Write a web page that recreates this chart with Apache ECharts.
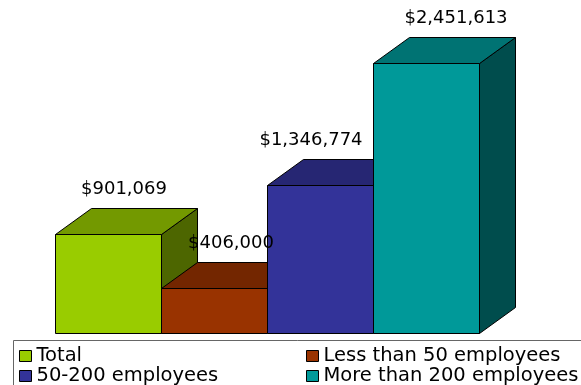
<!DOCTYPE html>
<html>
<head>
<meta charset="utf-8">
<script src="https://cdn.jsdelivr.net/npm/echarts@6/dist/echarts.min.js"></script>
<style>
  html, body { margin: 0; padding: 0; background: #fff; }
  #chart { width: 581px; height: 385px; }
</style>
</head>
<body>
<div id="chart"></div>
<script>
// Funding by company size
const categories = ['Total', 'Less than 50 employees', '50-200 employees', 'More than 200 employees'];
const values = [901069, 406000, 1346774, 2451613];
const frontColors = ['#99CC00', '#993300', '#333399', '#009999'];

// 3D box depth and per-bar label nudges (pixels)
const DEPTH_X = 36;
const DEPTH_Y = 26;
const LABEL_DX = [16, 17, -9, 30];
const LABEL_DY = 19.5;

function shade(hex, f) {
  const n = parseInt(hex.slice(1), 16);
  const r = Math.round(((n >> 16) & 255) * f);
  const g = Math.round(((n >> 8) & 255) * f);
  const b = Math.round((n & 255) * f);
  return 'rgb(' + r + ',' + g + ',' + b + ')';
}

function money(v) {
  return '$' + v.toLocaleString('en-US');
}

function renderBox(params, api) {
  const idx = api.value(0);
  const val = api.value(1);
  const base = api.coord([idx, 0]);
  const top = api.coord([idx, val]);
  const w = api.size([1, 0])[0];
  const x0 = Math.round(base[0] - w / 2) + 0.5;
  const x1 = Math.round(base[0] + w / 2) + 0.5;
  const yB = Math.round(base[1]) + 0.5;
  const yT = Math.round(top[1]) + 0.5;
  const c = frontColors[params.seriesIndex];
  const stroke = { stroke: '#000', lineWidth: 1 };
  return {
    type: 'group',
    children: [
      {
        type: 'polygon',
        shape: { points: [[x1, yT], [x1 + DEPTH_X, yT - DEPTH_Y], [x1 + DEPTH_X, yB - DEPTH_Y], [x1, yB]] },
        style: Object.assign({ fill: shade(c, 0.5) }, stroke)
      },
      {
        type: 'polygon',
        shape: { points: [[x0, yT], [x1, yT], [x1 + DEPTH_X, yT - DEPTH_Y], [x0 + DEPTH_X, yT - DEPTH_Y]] },
        style: Object.assign({ fill: shade(c, 0.75) }, stroke)
      },
      {
        type: 'rect',
        shape: { x: x0, y: yT, width: x1 - x0, height: yB - yT },
        style: Object.assign({ fill: c }, stroke)
      },
      {
        type: 'text',
        z2: 100,
        x: base[0] + LABEL_DX[idx],
        y: yT - DEPTH_Y - LABEL_DY,
        style: {
          text: money(val),
          fill: '#000',
          font: '18px "DejaVu Sans"',
          align: 'center',
          verticalAlign: 'middle'
        }
      }
    ]
  };
}

const series = categories.map(function (name, i) {
  return {
    name: name,
    type: 'custom',
    renderItem: renderBox,
    itemStyle: { color: frontColors[i] },
    encode: { x: 0, y: 1 },
    data: [[i, values[i]]]
  };
});

const legendText = { fontFamily: 'DejaVu Sans', fontSize: 19.5, color: '#000', lineHeight: 19.5 };
const legendCommon = {
  orient: 'vertical',
  top: 346,
  width: 300,
  height: 80,
  itemWidth: 12,
  itemHeight: 11,
  itemGap: 0,
  itemTextGap: 6,
  icon: 'rect',
  itemStyle: { borderColor: '#000', borderWidth: 1 },
  textStyle: legendText,
  selectedMode: false,
  padding: 0
};

const chart = echarts.init(document.getElementById('chart'), null, { renderer: 'canvas' });
chart.setOption({
  animation: false,
  backgroundColor: '#fff',
  grid: { left: 55, width: 424, top: 57.7, bottom: 52 },
  xAxis: { type: 'category', data: categories, show: false, boundaryGap: true },
  yAxis: { type: 'value', min: 0, max: 2500000, show: false },
  legend: [
    Object.assign({ left: 19, data: [categories[0], categories[2]] }, legendCommon),
    Object.assign({ left: 306, data: [categories[1], categories[3]] }, legendCommon)
  ],
  graphic: [{
    type: 'rect',
    shape: { x: 13.5, y: 340.5, width: 620, height: 80 },
    style: { fill: 'none', stroke: '#666', lineWidth: 1 },
    z: -1
  }],
  series: series
});
</script>
</body>
</html>
